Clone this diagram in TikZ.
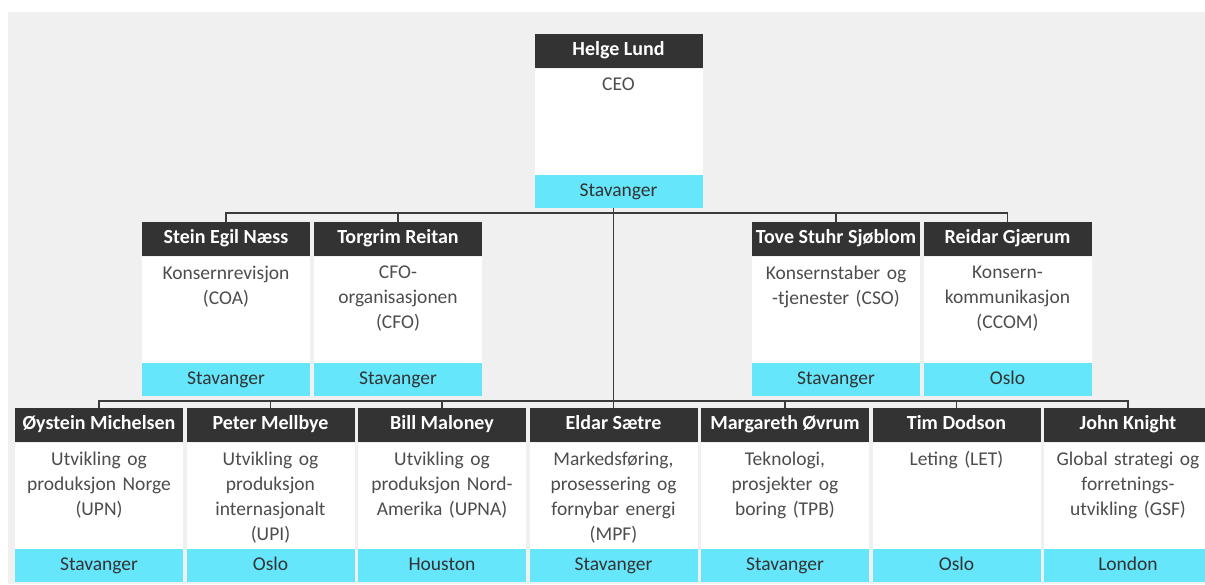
\documentclass[tikz,border=0pt]{standalone}
\usepackage{fontspec}
\setmainfont{Carlito}
\usepackage{tikz}
\usetikzlibrary{positioning}

\definecolor{headgray}{HTML}{333333}
\definecolor{placecyan}{HTML}{66E6FB}
\definecolor{rolegray}{HTML}{4D4D4D}
\definecolor{linegray}{HTML}{3C3C3C}
\definecolor{pagegray}{HTML}{F0F0F0}

% one unit of the chart: name bar, white role field, cyan location bar
\newcommand{\orgunit}[6]{%
  \node[head] (#1) at (#2,#3) {#4};
  \node[body, below=0pt of #1] (#1-body) {};
  \node[role, below=9pt of #1-body.north] (#1-role) {#5};
  \node[place, below=0pt of #1-body] (#1-place) {#6};
}

\begin{document}
\begin{tikzpicture}[x=1pt, y=-1pt,
    head/.style={rectangle, fill=headgray, text=white, anchor=north, inner sep=0pt,
      minimum width=168pt, minimum height=34pt, text height=13.5pt, text depth=4.5pt,
      font=\bfseries\fontsize{20}{22}\selectfont},
    body/.style={rectangle, fill=white, inner sep=0pt, minimum width=168pt, minimum height=106pt},
    role/.style={align=center, text width=166pt, inner sep=0pt, text=rolegray,
      font=\fontsize{19.5}{25}\selectfont},
    place/.style={rectangle, fill=placecyan, text=headgray, inner sep=0pt,
      minimum width=168pt, minimum height=33pt, text height=13.5pt, text depth=4.5pt,
      font=\fontsize{19.5}{22}\selectfont},
    link/.style={draw=linegray, line width=1.2pt}
]
\useasboundingbox (0,0) rectangle (1205,584);
\clip (0,0) rectangle (1205,584);
\fill[white] (0,0) rectangle (1205,584);
\fill[pagegray] (8,12) rectangle (1205,584);

% top
\orgunit{ceo}{618.5}{34}{Helge Lund}{CEO}{Stavanger}

% staff level
\orgunit{stein}{226}{222}{Stein Egil Næss}{Konsernrevisjon\\(COA)}{Stavanger}
\orgunit{torgrim}{398}{222}{Torgrim Reitan}{CFO-\\organisasjonen\\(CFO)}{Stavanger}
\orgunit{tove}{836}{222}{Tove Stuhr Sjøblom}{Konsernstaber og\\-tjenester (CSO)}{Stavanger}
\orgunit{reidar}{1007.5}{222}{Reidar Gjærum}{Konsern-\\kommunikasjon\\(CCOM)}{Oslo}

% business areas
\orgunit{oystein}{99}{408}{Øystein Michelsen}{Utvikling og\\produksjon Norge\\(UPN)}{Stavanger}
\orgunit{peter}{270.5}{408}{Peter Mellbye}{Utvikling og\\produksjon\\internasjonalt\\(UPI)}{Oslo}
\orgunit{bill}{442}{408}{Bill Maloney}{Utvikling og\\produksjon Nord-\\Amerika (UPNA)}{Houston}
\orgunit{eldar}{613.5}{408}{Eldar Sætre}{Markedsføring,\\prosessering og\\fornybar energi\\(MPF)}{Stavanger}
\orgunit{margareth}{785}{408}{Margareth Øvrum}{Teknologi,\\prosjekter og\\boring (TPB)}{Stavanger}
\orgunit{tim}{956.5}{408}{Tim Dodson}{Leting (LET)}{Oslo}
\orgunit{john}{1128}{408}{John Knight}{Global strategi og\\forretnings-\\utvikling (GSF)}{London}

% reporting lines
\coordinate (bus2) at (616,213);
\coordinate (bus3) at (616,401);
\draw[link] (eldar.north |- ceo-place.south) -- (eldar.north);
\draw[link] (stein.north) |- (bus2) -| (reidar.north);
\draw[link] (torgrim.north) -- (torgrim.north |- bus2);
\draw[link] (tove.north) -- (tove.north |- bus2);
\draw[link] (oystein.north) |- (bus3) -| (john.north);
\draw[link] (peter.north) -- (peter.north |- bus3);
\draw[link] (bill.north) -- (bill.north |- bus3);
\draw[link] (margareth.north) -- (margareth.north |- bus3);
\draw[link] (tim.north) -- (tim.north |- bus3);
\end{tikzpicture}
\end{document}
